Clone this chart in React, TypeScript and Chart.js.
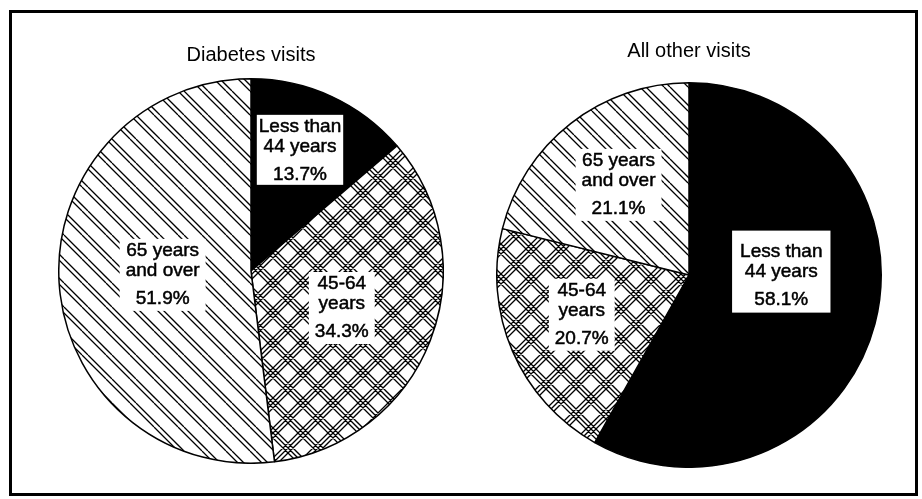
import React, { useEffect, useRef } from "react";
import { Chart, registerables } from "chart.js";

Chart.register(...registerables);

// ---- data ----
const categories = ["Less than 44 years", "45-64 years", "65 years and over"];
const categoryLines = [
  ["Less than", "44 years"],
  ["45-64", "years"],
  ["65 years", "and over"],
];
const diabetesValues = [13.7, 34.3, 51.9];
const otherVisitValues = [58.1, 20.7, 21.1];
const chartTitles = ["Diabetes visits", "All other visits"];

// ---- label placement (style, not data) ----
type Place = { dAngle: number; r: number; pad: [number, number, number, number] };
const leftPlaces: Place[] = [
  { dAngle: -2.5, r: 0.675, pad: [5, 2, 3, 2] },
  { dAngle: 1, r: 0.51, pad: [5, 6, 5, 6] },
  { dAngle: 1, r: 0.46, pad: [5, 6, 5, 6] },
];
const rightPlaces: Place[] = [
  { dAngle: -14.3, r: 0.48, pad: [14, 8, 6, 8] },
  { dAngle: 3, r: 0.595, pad: [5, 6, 5, 6] },
  { dAngle: 0, r: 0.595, pad: [5, 6, 5, 6] },
];

const FONT = '"Liberation Sans", Arial, Helvetica, sans-serif';

function makePattern(kind: "diag" | "cross"): CanvasPattern | string {
  const P = kind === "diag" ? 24 : 30;
  const c = document.createElement("canvas");
  c.width = P;
  c.height = P;
  const ctx = c.getContext("2d");
  if (!ctx) return "#fff";
  ctx.fillStyle = "#fff";
  ctx.fillRect(0, 0, P, P);
  ctx.strokeStyle = "#000";
  ctx.lineWidth = 1.3;
  const offsDown = kind === "diag" ? [0, 6] : [0, 5, 10];
  const offsUp = [0, 5, 10];
  ctx.beginPath();
  for (let k = -2; k <= 2; k++) {
    for (const o of offsDown) {
      const s = o + k * P;
      ctx.moveTo(s, 0);
      ctx.lineTo(s + P, P);
    }
    if (kind === "cross") {
      for (const o of offsUp) {
        const s = o + k * P;
        ctx.moveTo(s, 0);
        ctx.lineTo(s - P, P);
      }
    }
  }
  ctx.stroke();
  const pat = ctx.createPattern(c, "repeat");
  return pat || "#fff";
}

function labelPlugin(places: Place[], values: number[]) {
  return {
    id: "sliceLabels",
    afterDatasetsDraw(chart: any) {
      const ctx: CanvasRenderingContext2D = chart.ctx;
      const meta = chart.getDatasetMeta(0);
      meta.data.forEach((arc: any, i: number) => {
        const p = places[i];
        const mid = (arc.startAngle + arc.endAngle) / 2 + (p.dAngle * Math.PI) / 180;
        const cx = arc.x + Math.cos(mid) * arc.outerRadius * p.r;
        const cy = arc.y + Math.sin(mid) * arc.outerRadius * p.r;
        const lines = [...categoryLines[i], values[i].toFixed(1) + "%"];
        const ys = [cy - 24, cy - 4, cy + 24];
        ctx.save();
        ctx.font = `19px ${FONT}`;
        const w = Math.max(...lines.map((t) => ctx.measureText(t).width));
        const top = ys[0] - 7 - p.pad[0];
        const bottom = ys[2] + 7 + p.pad[2];
        const left = cx - w / 2 - p.pad[3];
        const right = cx + w / 2 + p.pad[1];
        ctx.fillStyle = "#fff";
        ctx.fillRect(left, top, right - left, bottom - top);
        ctx.fillStyle = "#000";
        ctx.strokeStyle = "#000";
        ctx.lineWidth = 0.5;
        ctx.textAlign = "center";
        ctx.textBaseline = "middle";
        lines.forEach((t, j) => {
          ctx.fillText(t, cx, ys[j]);
          ctx.strokeText(t, cx, ys[j]);
        });
        ctx.restore();
      });
    },
  };
}

function PieChart(props: {
  title: string;
  values: number[];
  places: Place[];
  left: number;
  top: number;
  width: number;
  height: number;
  titleGap: number;
}) {
  const ref = useRef<HTMLCanvasElement | null>(null);
  useEffect(() => {
    if (!ref.current) return;
    const chart = new Chart(ref.current, {
      type: "pie",
      data: {
        labels: categories,
        datasets: [
          {
            data: props.values,
            backgroundColor: ["#000", makePattern("cross"), makePattern("diag")] as any,
            borderColor: "#000",
            borderWidth: 1.5,
          },
        ],
      },
      options: {
        responsive: false,
        animation: false,
        layout: { padding: 0 },
        plugins: {
          legend: { display: false },
          tooltip: { enabled: false },
          title: {
            display: true,
            text: props.title,
            color: "#000",
            font: { family: FONT, size: 20, weight: "normal", lineHeight: 1.2 },
            padding: { top: 0, bottom: props.titleGap },
          },
        },
      },
      plugins: [labelPlugin(props.places, props.values)],
    } as any);
    return () => chart.destroy();
  }, []);
  return (
    <canvas
      ref={ref}
      width={props.width}
      height={props.height}
      style={{ position: "absolute", left: props.left, top: props.top, width: props.width, height: props.height }}
    />
  );
}

export default function App() {
  return (
    <div style={{ position: "absolute", left: 0, top: 0, width: 922, height: 499, background: "#fff", overflow: "hidden" }}>
      <div
        style={{
          position: "absolute",
          left: 9,
          top: 10,
          width: 903,
          height: 480,
          border: "3px solid #000",
        }}
      />
      <PieChart title={chartTitles[0]} values={diabetesValues} places={leftPlaces} left={58} top={43} width={386} height={421} titleGap={11} />
      <PieChart title={chartTitles[1]} values={otherVisitValues} places={rightPlaces} left={496} top={39} width={386} height={429} titleGap={19} />
    </div>
  );
}
